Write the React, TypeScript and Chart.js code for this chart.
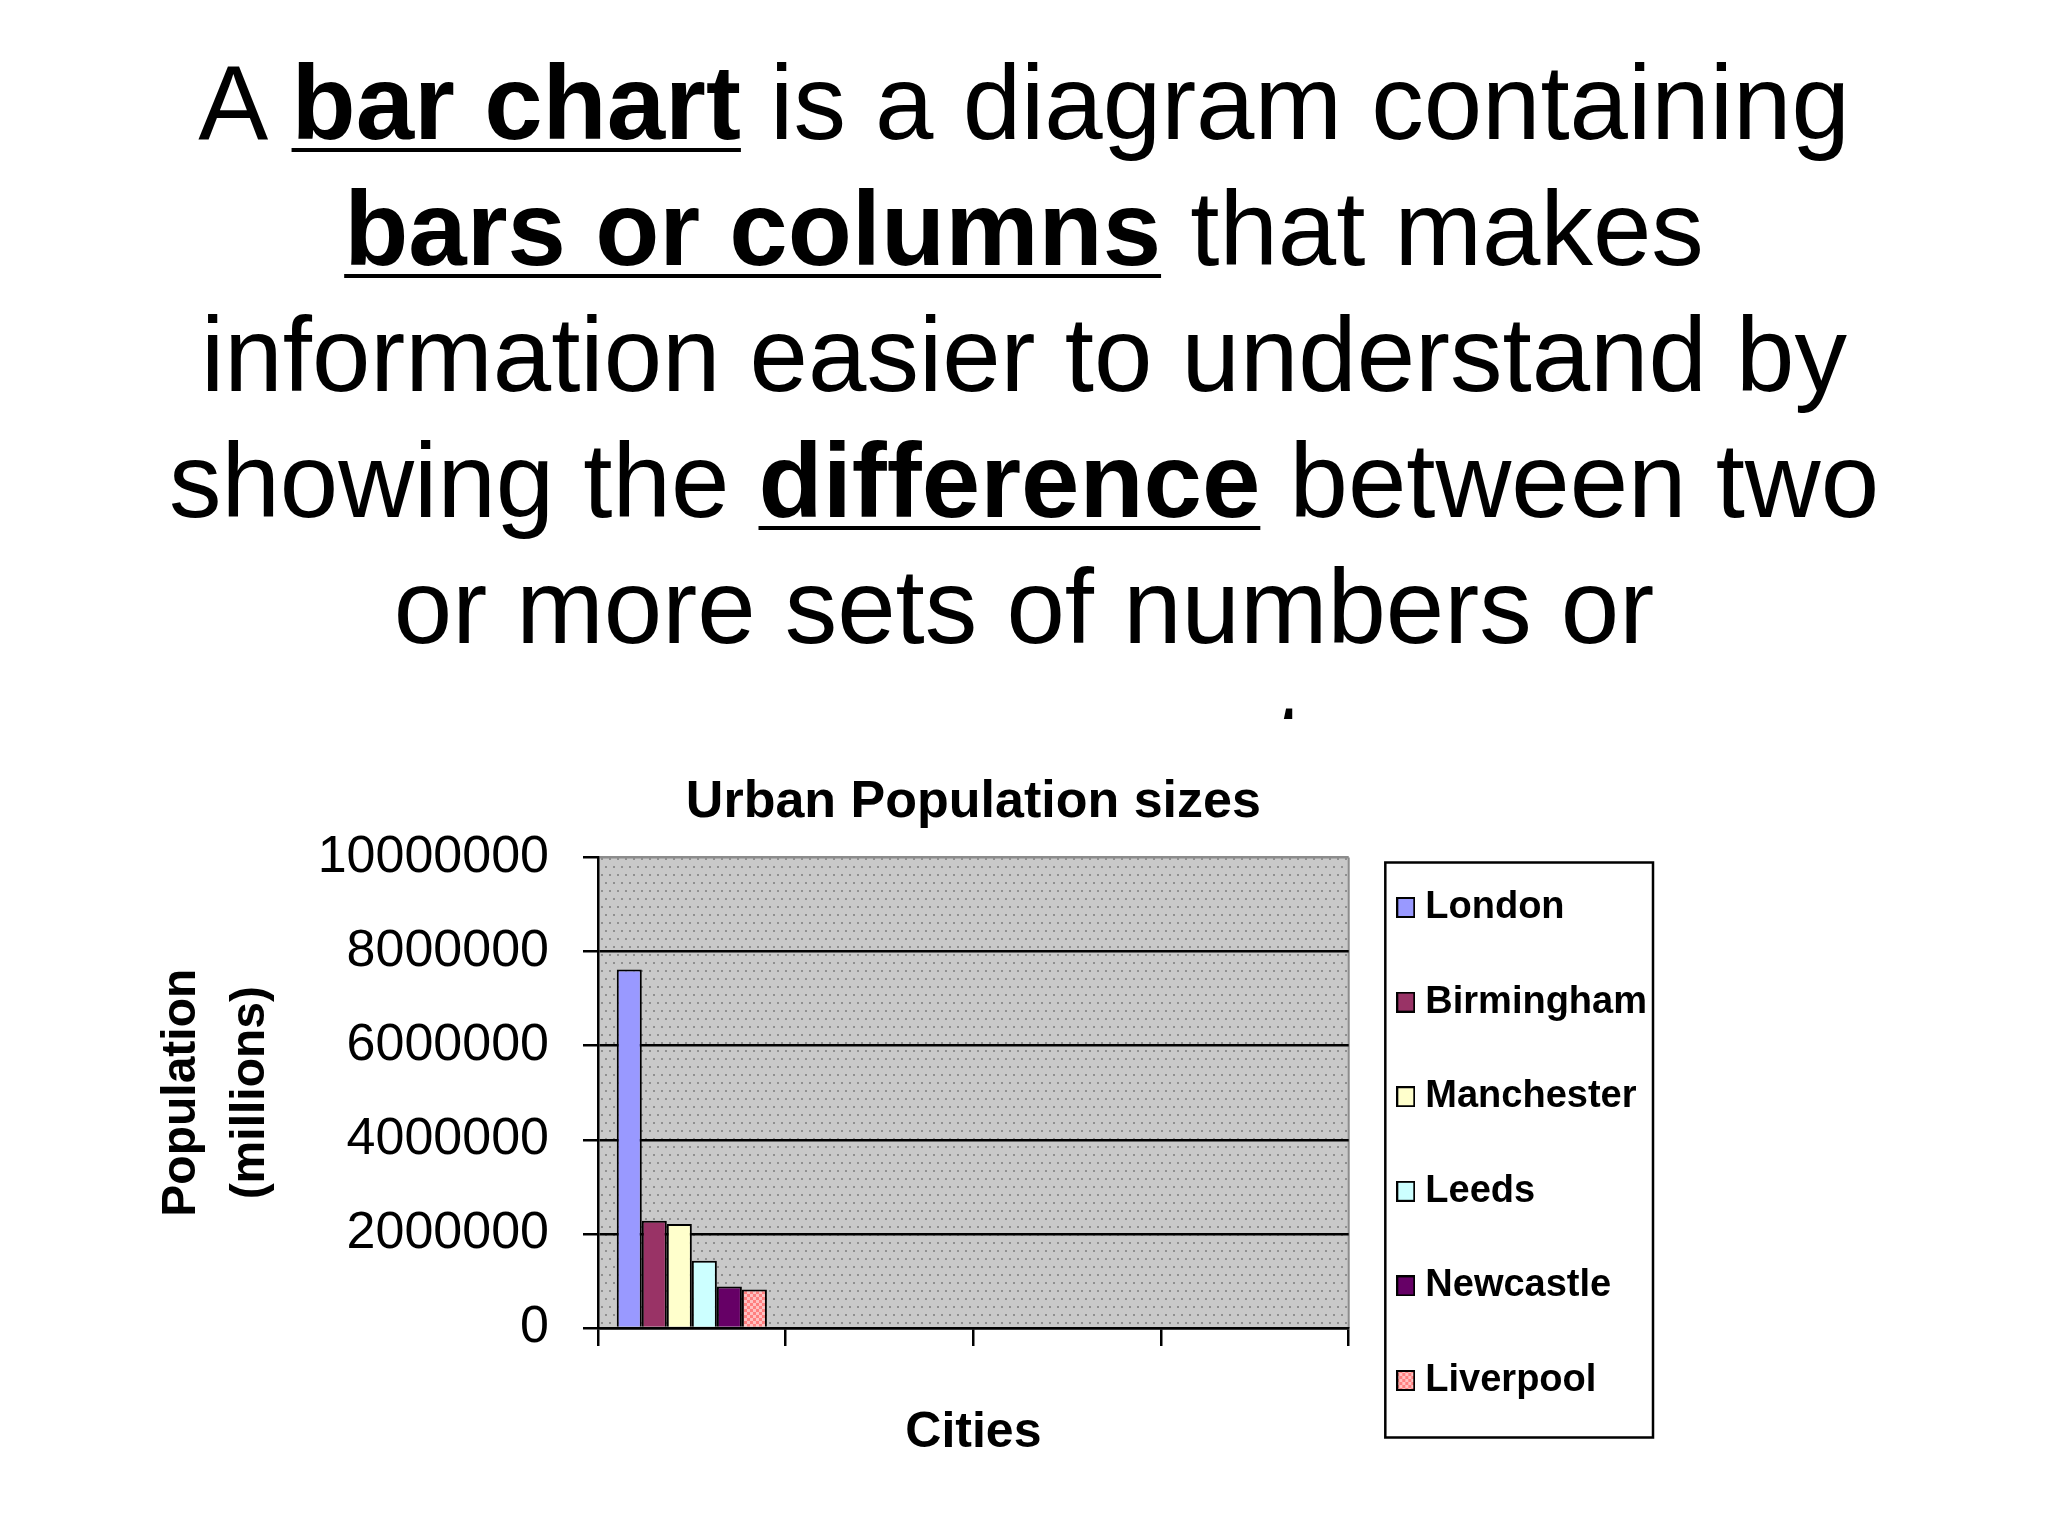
import { useEffect, useRef } from "react"
import { Chart, registerables } from "chart.js"
import type { Plugin } from "chart.js"

Chart.register(...registerables)

const FONT = "'Liberation Sans', Arial, Helvetica, sans-serif"

// data
const categorySlots = ["", "", "", ""]
const cities = ["London", "Birmingham", "Manchester", "Leeds", "Newcastle", "Liverpool"]
const london = [7620000, null, null, null]
const birmingham = [2280000, null, null, null]
const manchester = [2210000, null, null, null]
const leeds = [1430000, null, null, null]
const newcastle = [880000, null, null, null]
const liverpool = [820000, null, null, null]
const cityValues = [london, birmingham, manchester, leeds, newcastle, liverpool]
const yTickValues = [0, 2000000, 4000000, 6000000, 8000000, 10000000]

const cityColors = ["#9999ff", "#993366", "#ffffcc", "#ccffff", "#660066", "#ff8080"]

function dotPattern(ctx: CanvasRenderingContext2D) {
  const tile = document.createElement("canvas")
  tile.width = 8
  tile.height = 16
  const t = tile.getContext("2d")!
  t.fillStyle = "#c9c9c9"
  t.fillRect(0, 0, 8, 16)
  t.fillStyle = "#8f8f8f"
  t.fillRect(1, 2, 2, 2)
  t.fillRect(5, 10, 2, 2)
  return ctx.createPattern(tile, "repeat")!
}

function checkPattern(ctx: CanvasRenderingContext2D) {
  const tile = document.createElement("canvas")
  tile.width = 6
  tile.height = 6
  const t = tile.getContext("2d")!
  t.fillStyle = "#ff8080"
  t.fillRect(0, 0, 6, 6)
  t.fillStyle = "#ffc2c2"
  t.fillRect(0, 0, 3, 3)
  t.fillRect(3, 3, 3, 3)
  return ctx.createPattern(tile, "repeat")!
}

// small outlined square used as the legend key
function swatch(i: number) {
  const c = document.createElement("canvas")
  c.width = 19
  c.height = 21
  const t = c.getContext("2d")!
  t.fillStyle = i === 5 ? checkPattern(t) : cityColors[i]
  t.fillRect(0, 0, 19, 21)
  t.strokeStyle = "#000"
  t.lineWidth = 2
  t.strokeRect(1, 1, 17, 19)
  return c
}

function PopulationChart() {
  const chartRef = useRef<HTMLCanvasElement>(null)
  const chartInstance = useRef<Chart | null>(null)

  useEffect(() => {
    if (!chartRef.current) return
    if (chartInstance.current) chartInstance.current.destroy()

    const ctx = chartRef.current.getContext("2d")
    if (!ctx) return

    const plotFill = dotPattern(ctx)
    const fills: (string | CanvasPattern)[] = cityColors.map((c, i) =>
      i === 5 ? checkPattern(ctx) : c
    )
    const keys = cities.map((_, i) => swatch(i))

    // grey dotted plot area like the old Excel default
    const plotBackground: Plugin<"bar"> = {
      id: "plotBackground",
      beforeDraw(chart) {
        const { ctx, chartArea: a } = chart
        ctx.save()
        ctx.fillStyle = plotFill
        ctx.fillRect(a.left, a.top, a.width, a.height)
        ctx.strokeStyle = "#8c8c8c"
        ctx.lineWidth = 2
        ctx.beginPath()
        ctx.moveTo(a.right, a.top)
        ctx.lineTo(a.right, a.bottom)
        ctx.stroke()
        ctx.restore()
      },
    }

    // frame around the legend
    const legendFrame: Plugin<"bar"> = {
      id: "legendFrame",
      afterDraw(chart) {
        const boxes = chart.legend?.legendHitBoxes
        if (!boxes || !boxes.length) return
        const first = boxes[0]
        const last = boxes[boxes.length - 1]
        const left = first.left - 20
        const right = Math.max(...boxes.map((b) => b.left + b.width)) + 6
        const top = first.top + first.height / 2 - 45
        const bottom = last.top + last.height / 2 + 57
        const c = chart.ctx
        c.save()
        c.strokeStyle = "#000"
        c.lineWidth = 2.5
        c.strokeRect(left, top, right - left, bottom - top)
        c.restore()
      },
    }

    chartInstance.current = new Chart(ctx, {
      type: "bar",
      data: {
        labels: categorySlots,
        datasets: cities.map((name, i) => ({
          label: name,
          data: cityValues[i],
          backgroundColor: fills[i],
          borderColor: "#000",
          borderWidth: 2,
          categoryPercentage: 0.8,
          barPercentage: 1,
        })),
      },
      options: {
        animation: false,
        responsive: true,
        maintainAspectRatio: false,
        layout: { padding: { top: 0, bottom: 0, left: 0, right: 391 } },
        font: { family: FONT },
        plugins: {
          tooltip: { enabled: false },
          title: {
            display: true,
            text: "Urban Population sizes",
            fullSize: false,
            color: "#000",
            font: { family: FONT, size: 52, weight: "bold" },
            padding: { top: 11, bottom: 24 },
          },
          legend: {
            position: "right",
            labels: {
              color: "#000",
              font: { family: FONT, size: 38, weight: "bold" },
              usePointStyle: true,
              pointStyleWidth: 1,
              boxHeight: 21,
              padding: 56.6,
              generateLabels: (chart) =>
                Chart.defaults.plugins.legend.labels
                  .generateLabels(chart)
                  .map((item, i) => ({ ...item, pointStyle: keys[i] })),
            },
          },
        },
        scales: {
          x: {
            afterFit: (scale) => {
              scale.height = 200
            },
            ticks: { display: false },
            grid: {
              offset: true,
              drawOnChartArea: false,
              color: "#000",
              lineWidth: 2.5,
              tickLength: 18,
            },
            border: { color: "#000", width: 2.5 },
            title: {
              display: true,
              text: "Cities",
              color: "#000",
              font: { family: FONT, size: 50, weight: "bold" },
              padding: { top: 0, bottom: 65 },
            },
          },
          y: {
            min: yTickValues[0],
            max: yTickValues[yTickValues.length - 1],
            afterBuildTicks: (scale) => {
              scale.ticks = yTickValues.map((value) => ({ value }))
            },
            afterFit: (scale) => {
              scale.width = 598
            },
            ticks: {
              callback: (value) => String(value),
              color: "#000",
              font: { family: FONT, size: 52 },
              padding: 34,
            },
            grid: {
              color: (c) =>
                c.tick && c.tick.value === yTickValues[yTickValues.length - 1] ? "#8c8c8c" : "#000",
              lineWidth: 2.5,
              tickColor: "#000",
              tickLength: 15,
            },
            border: { color: "#000", width: 2.5 },
            title: {
              display: true,
              text: ["Population", "(millions)"],
              color: "#000",
              font: { family: FONT, size: 48, weight: "bold", lineHeight: 1.44 },
              padding: { top: 147, bottom: 0 },
            },
          },
        },
      },
      plugins: [plotBackground, legendFrame],
    })

    return () => {
      if (chartInstance.current) {
        chartInstance.current.destroy()
        chartInstance.current = null
      }
    }
  }, [])

  return (
    <div style={{ position: "absolute", left: 0, top: 760, width: 2048, height: 768 }}>
      <canvas ref={chartRef} />
    </div>
  )
}

const keyWord: React.CSSProperties = {
  fontWeight: "bold",
  textDecoration: "underline",
  textDecorationThickness: "4px",
  textUnderlineOffset: "9px",
}

export default function App() {
  return (
    <div style={{ background: "#fff" }}>
      <div
        style={{
          position: "absolute",
          left: 0,
          top: 40,
          width: 2048,
          height: 679,
          overflow: "hidden",
          textAlign: "center",
          fontFamily: FONT,
          fontSize: 105,
          lineHeight: "126px",
          color: "#000",
          whiteSpace: "nowrap",
        }}
      >
        <div>
          A <span style={keyWord}>bar chart</span> is a diagram containing
        </div>
        <div>
          <span style={keyWord}>bars or columns</span> that makes
        </div>
        <div>information easier to understand by</div>
        <div>
          showing the <span style={keyWord}>difference</span> between two
        </div>
        <div>or more sets of numbers or</div>
        <div style={{ position: "relative", top: 8 }}>measurements.</div>
      </div>
      <PopulationChart />
    </div>
  )
}
